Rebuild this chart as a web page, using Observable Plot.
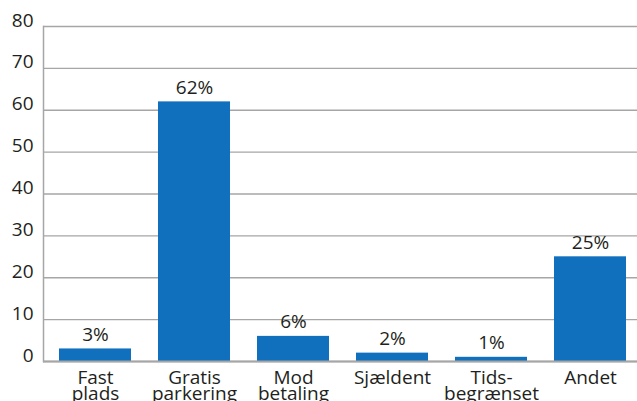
<!DOCTYPE html>
<html>
<head>
<meta charset="utf-8">
<script src="https://cdn.jsdelivr.net/npm/d3@7"></script>
<script src="https://cdn.jsdelivr.net/npm/@observablehq/plot@0.6"></script>
<style>
html, body { margin: 0; padding: 0; background: #fff; }
svg { display: block; }
</style>
</head>
<body>
<div id="chart"></div>
<script>
const categories = ["Fast\nplads", "Gratis\nparkering", "Mod\nbetaling", "Sjældent", "Tids-\nbegrænset", "Andet"];
const values = [3, 62, 6, 2, 1, 25];
const valueLabels = ["3%", "62%", "6%", "2%", "1%", "25%"];
const yTicks = [0, 10, 20, 30, 40, 50, 60, 70, 80];

const data = categories.map((c, i) => ({cat: c, v: values[i], label: valueLabels[i]}));

const chart = Plot.plot({
  width: 637,
  height: 401,
  marginLeft: 43,
  marginRight: -4,
  marginTop: 26,
  marginBottom: 40,
  style: {fontFamily: "'Open Sans', sans-serif", fontSize: "19px", color: "#231f20", background: "#fff"},
  x: {domain: categories, paddingInner: 0.277, paddingOuter: 0.14, label: null},
  y: {domain: [0, 80], label: null},
  marks: [
    Plot.gridY(yTicks, {stroke: "#a6a6a6", strokeOpacity: 1, strokeWidth: 1.3}),
    Plot.frame({anchor: "left", stroke: "#a6a6a6", strokeWidth: 1.5}),
    Plot.barY(data, {x: "cat", y: "v", fill: "#1170bd"}),
    Plot.ruleY([0], {stroke: "#a6a6a6", strokeWidth: 2}),
    Plot.text(data, {x: "cat", y: "v", text: "label", dy: -14, fill: "#231f20", fontSize: 19}),
    Plot.axisY(yTicks, {tickSize: 0, tickPadding: 10, dy: -6, fontSize: 19, fill: "#231f20", label: null}),
    Plot.axisX({tickSize: 0, tickPadding: 11, fontSize: 19, fill: "#231f20", lineHeight: 0.84, label: null})
  ]
});
document.getElementById("chart").appendChild(chart);
</script>
</body>
</html>
